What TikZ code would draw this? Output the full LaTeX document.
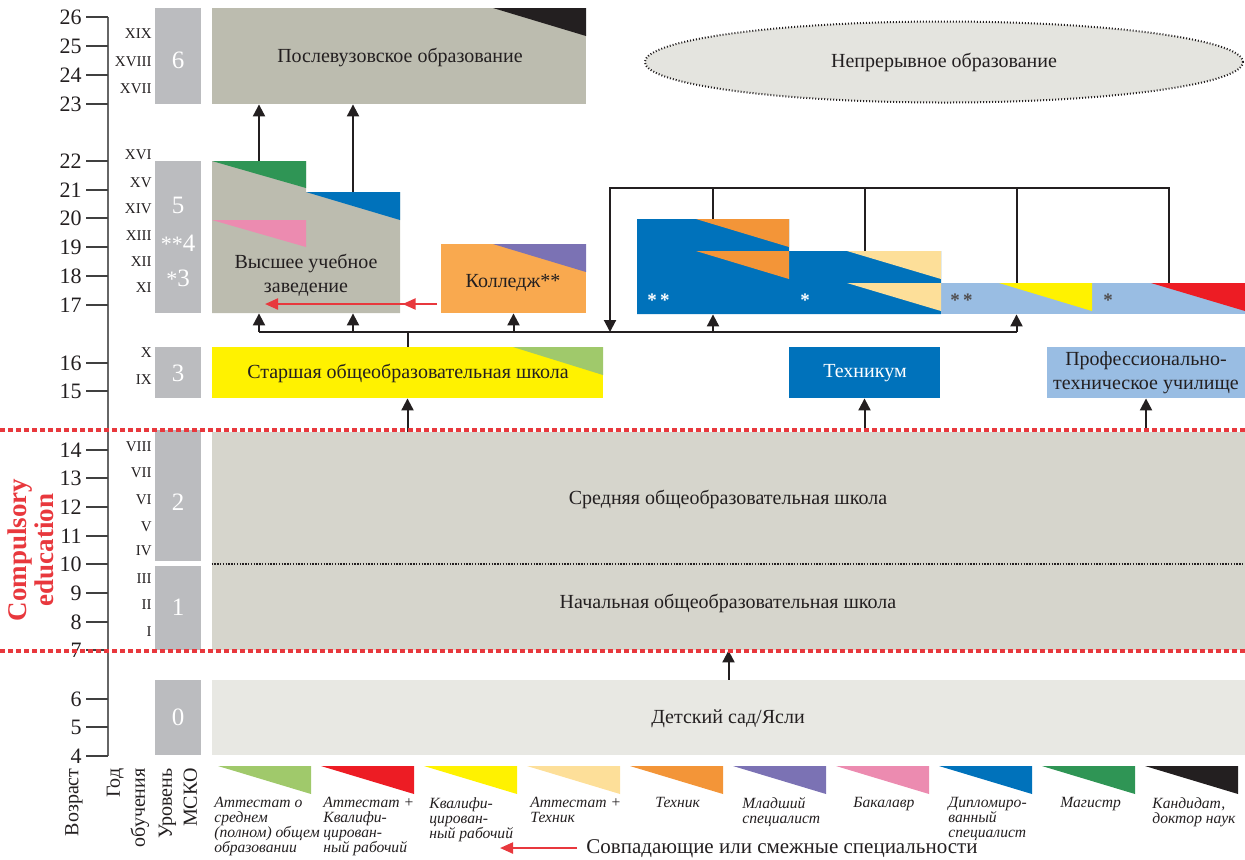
\documentclass[tikz,border=0pt]{standalone}
\usepackage{fontspec}
\setmainfont{Liberation Serif}
\usetikzlibrary{arrows.meta,fit,shapes.geometric,decorations.markings}

\definecolor{lvlgray}{HTML}{BBBCBF}
\definecolor{unigray}{HTML}{BCBCAF}
\definecolor{ovalgray}{HTML}{E4E4DF}
\definecolor{schoolgray}{HTML}{D6D5CC}
\definecolor{kggray}{HTML}{E8E8E3}
\definecolor{cyellow}{HTML}{FFF200}
\definecolor{clgreen}{HTML}{A0C96B}
\definecolor{cred}{HTML}{ED1C24}
\definecolor{cpeach}{HTML}{FDDF99}
\definecolor{corange}{HTML}{F39538}
\definecolor{cpurple}{HTML}{7B72B4}
\definecolor{cpink}{HTML}{EC8BB0}
\definecolor{cblue}{HTML}{0072BB}
\definecolor{cgreen}{HTML}{2F9555}
\definecolor{cblack}{HTML}{231F20}
\definecolor{ccollege}{HTML}{F9A94F}
\definecolor{clblue}{HTML}{99BDE3}
\definecolor{dotred}{HTML}{E8383D}

\tikzset{
  blk/.style={rectangle,inner sep=0pt,draw=none,align=center,text=cblack,
    font=\fontsize{10}{11.8}\selectfont},
  lvl/.style={inner sep=0pt,text=white,font=\fontsize{12.5}{13}\selectfont},
  lnk/.style={line width=1pt,draw=cblack},
  arr/.style={lnk,-{Triangle[width=6pt,length=6pt]}},
  redarr/.style={line width=1.1pt,draw=dotred,-{Triangle[width=5.5pt,length=6.5pt]}},
  reddot/.style={draw=dotred,line width=2pt,dash pattern=on 2.4pt off 1.6pt},
  divider/.style={draw=cblack,line width=0.7pt,dash pattern=on 0.7pt off 0.7pt},
  axisline/.style={draw=black!60,line width=0.7pt},
  tickmark/.style={draw=black!75,line width=0.6pt},
  agetxt/.style={anchor=east,inner sep=0pt,text=cblack,font=\fontsize{11}{11}\selectfont},
  romtxt/.style={anchor=east,inner sep=0pt,text=cblack,font=\fontsize{7.5}{7.5}\selectfont},
  sidetxt/.style={rotate=90,anchor=east,inner sep=0pt,align=right,text=cblack,
    font=\fontsize{10}{12.5}\selectfont},
  legtxt/.style={anchor=north west,inner sep=0pt,align=left,text=cblack,
    font=\fontsize{7.8}{7.5}\selectfont\itshape},
  star/.style={anchor=base west,inner sep=0pt,font=\fontsize{9.5}{9.5}\selectfont\bfseries}
}

% hjoernetrekant: farve, x1, x2, ytop, ybund
\newcommand{\wedgefill}[5]{\fill[#1] (#2,#4) -- (#3,#4) -- (#3,#5) -- cycle;}

\begin{document}
\begin{tikzpicture}[x=0.5pt,y=-0.5pt]
  \useasboundingbox (0,0) rectangle (1245,859);

  %alders-akse
  \draw[axisline] (108,17) -- (108,756);
  \foreach \a/\y in {26/17,25/46,24/75,23/104,22/161,21/190,20/218,19/247,18/276,17/305,
                     16/363,15/391,14/450,13/478,12/507,11/536,10/564,9/593,8/622,7/650,
                     6/699,5/727,4/756} {
    \draw[tickmark] (86,\y) -- (108,\y);
    \node[agetxt] (age\a) at (82,\y) {\a};
  }

  %studieaar
  \foreach \r/\y in {XIX/34,XVIII/62,XVII/89,XVI/155,XV/183,XIV/209,XIII/236,XII/262,XI/288,
                     X/353,IX/380,VIII/447,VII/473,VI/500,V/527,IV/551,III/579,II/605,I/632}
    \node[romtxt] (yr\r) at (152,\y) {\r};

  %MSKO-niveauer
  \node[blk,fill=lvlgray,fit={(155,8) (201,104)}] (lvl6) {};
  \node[blk,fill=lvlgray,fit={(155,161) (201,313)}] (lvl5) {};
  \node[blk,fill=lvlgray,fit={(155,347) (201,398)}] (lvl3) {};
  \node[blk,fill=lvlgray,fit={(155,430) (201,561)}] (lvl2) {};
  \node[blk,fill=lvlgray,fit={(155,566) (201,650)}] (lvl1) {};
  \node[blk,fill=lvlgray,fit={(155,680) (201,755)}] (lvl0) {};
  \node[lvl] (lvl6t) at (178,60) {6};
  \node[lvl] (lvl5a) at (178,205) {5};
  \node[lvl] (lvl5b) at (178,243) {{\fontsize{11}{11}\selectfont**}4};
  \node[lvl] (lvl5c) at (178,278) {{\fontsize{11}{11}\selectfont*}3};
  \node[lvl] (lvl3t) at (178,373) {3};
  \node[lvl] (lvl2t) at (178,502) {2};
  \node[lvl] (lvl1t) at (178,607) {1};
  \node[lvl] (lvl0t) at (178,717) {0};

  %efteruddannelse
  \node[blk,fill=unigray,fit={(212,8) (586,104)}] (pgrad) {};
  \wedgefill{cblack}{493}{586}{8}{36}
  \node[blk] (pgradtxt) at (400,57) {Послевузовское образование};
  \node[ellipse,draw=cblack,line width=1pt,dash pattern=on 0.5pt off 1pt,fill=ovalgray,
        minimum width=299pt,minimum height=40.5pt,inner sep=0pt,text=cblack,
        font=\fontsize{10}{11.8}\selectfont] (cont) at (944,62) {Непрерывное образование};

  %vuz
  \fill[unigray] (212,161) -- (306,161) -- (306,192) -- (400,192) -- (400,313) -- (212,313) -- cycle;
  \node[blk,fit={(212,161) (306,313)}] (vuzA) {};
  \node[blk,fit={(306,192) (400,313)}] (vuzB) {};
  \wedgefill{cgreen}{212}{306}{161}{188}
  \wedgefill{cblue}{306}{400}{192}{220}
  \wedgefill{cpink}{212}{306}{220}{247}
  \node[blk] (vuz) at (306,275) {Высшее учебное\\заведение};

  %kolledzh
  \node[blk,fill=ccollege,fit={(441,244) (586,313)}] (koll) {};
  \wedgefill{cpurple}{493}{586}{244}{272}
  \node[blk] (kolltxt) at (513,283) {Колледж**};

  %tekhnikum/PTU trin
  \fill[cblue] (637,219) -- (789,219) -- (789,251) -- (941,251) -- (941,314) -- (637,314) -- cycle;
  \fill[clblue] (941,283) rectangle (1245,314);
  \node[blk,fit={(637,219) (789,314)}] (dipA) {};
  \node[blk,fit={(789,251) (941,314)}] (dipB) {};
  \node[blk,fit={(941,283) (1092,314)}] (kvalA) {};
  \node[blk,fit={(1092,283) (1245,314)}] (kvalB) {};
  \wedgefill{corange}{696}{789}{219}{247}
  \wedgefill{corange}{696}{789}{251}{279}
  \wedgefill{cpeach}{847}{941}{251}{279}
  \wedgefill{cpeach}{847}{941}{283}{311}
  \wedgefill{cyellow}{999}{1092}{283}{311}
  \wedgefill{cred}{1151}{1245}{283}{311}
  \node[star,text=white] (st1) at (647,306) {*\,*};
  \node[star,text=white] (st2) at (800,306) {*};
  \node[star,text=cblack!80] (st3) at (950,306) {*\,*};
  \node[star,text=cblack!80] (st4) at (1103,306) {*};

  %niveau 3
  \node[blk,fill=cyellow,fit={(212,347) (603,398)}] (senior) {};
  \wedgefill{clgreen}{513}{603}{347}{375}
  \node[blk] (seniortxt) at (408,373) {Старшая общеобразовательная школа};
  \node[blk,fill=cblue,fit={(789,347) (940,398)}] (tech) {};
  \node[blk,text=white] (techtxt) at (865,373) {Техникум};
  \node[blk,fill=clblue,fit={(1047,347) (1245,398)}] (ptu) {};
  \node[blk] (ptutxt) at (1146,373) {Профессионально-\\техническое училище};

  %grundskole
  \node[blk,fill=schoolgray,fit={(212,432) (1245,650)}] (school) {};
  \draw[divider] (school.west |- 0,564) -- (school.east |- 0,564);
  \node[blk] (midtxt) at (728,499) {Средняя общеобразовательная школа};
  \node[blk] (primtxt) at (728,603) {Начальная общеобразовательная школа};
  \node[blk,fill=kggray,fit={(212,680) (1245,755)}] (kg) {};
  \node[blk] (kgtxt) at (728,719) {Детский сад/Ясли};

  %pile
  \coordinate (rail) at (0,332);
  \coordinate (upper) at (610,188);
  \draw[arr] (vuzA.north) -- (vuzA.north |- pgrad.south);
  \draw[arr] (vuzB.north) -- (vuzB.north |- pgrad.south);
  \draw[lnk] (senior.north) -- (senior.north |- rail);
  \draw[lnk] (vuzA.south |- rail) -- (kvalA.south |- rail);
  \foreach \n in {vuzA,vuzB,koll,dipA,kvalA}
    \draw[arr] (\n.south |- rail) -- (\n.south);
  \draw[arr] (kvalB.north) |- (upper) -- (upper |- rail);
  \foreach \n in {dipA,dipB,kvalA}
    \draw[lnk] (upper -| \n.north) -- (\n.north);
  \foreach \n in {senior,tech,ptu}
    \draw[arr] (\n.south |- school.north) -- (\n.south);
  \draw[arr] (kg.north) -- (kg.north |- school.south);

  %roed pil
  \coordinate (redA) at (437,304);
  \coordinate (redB) at (265,304);
  \draw[redarr,postaction={decorate},decoration={markings,
        mark=at position 0.2 with {\arrow{Triangle[width=5.5pt,length=6.5pt]}}}] (redA) -- (redB);

  %skolepligt
  \draw[reddot] (0,430) -- (1245,430);
  \draw[reddot] (0,651) -- (1245,651);
  \node[rotate=90,align=center,inner sep=0pt,text=dotred,
        font=\fontsize{13.5}{13.5}\selectfont\bfseries] (compuls) at (31,550) {Compulsory\\education};

  %akse-tekster
  \node[sidetxt] (vozr) at (74,768) {Возраст};
  \node[sidetxt] (godob) at (128,768) {Год\\обучения};
  \node[sidetxt] (urov) at (178,768) {Уровень\\МСКО};

  %forklaring
  \foreach \c [count=\i from 0] in {clgreen,cred,cyellow,cpeach,corange,cpurple,cpink,cblue,cgreen,cblack}
    \fill[\c] ({218+103*\i},766) -- ++(93,0) -- ++(0,28) -- cycle;
  \node[legtxt] (leg1) at (214,797) {Аттестат о\\среднем\\(полном) общем\\образовании};
  \node[legtxt] (leg2) at (323,797) {Аттестат +\\Квалифи-\\цирован-\\ный рабочий};
  \node[legtxt] (leg3) at (429,797) {Квалифи-\\цирован-\\ный рабочий};
  \node[legtxt] (leg4) at (530,797) {Аттестат +\\Техник};
  \node[legtxt] (leg5) at (655,797) {Техник};
  \node[legtxt] (leg6) at (742,797) {Младший\\специалист};
  \node[legtxt] (leg7) at (853,797) {Бакалавр};
  \node[legtxt] (leg8) at (948,797) {Дипломиро-\\ванный\\специалист};
  \node[legtxt] (leg9) at (1060,797) {Магистр};
  \node[legtxt] (leg10) at (1152,797) {Кандидат,\\доктор наук};

  \coordinate (keyA) at (577,848);
  \coordinate (keyB) at (500,848);
  \draw[redarr] (keyA) -- (keyB);
  \node[anchor=west,inner sep=0pt,text=cblack,font=\fontsize{10.5}{10.5}\selectfont] (keytxt)
    at (586,849) {Совпадающие или смежные специальности};
\end{tikzpicture}
\end{document}
